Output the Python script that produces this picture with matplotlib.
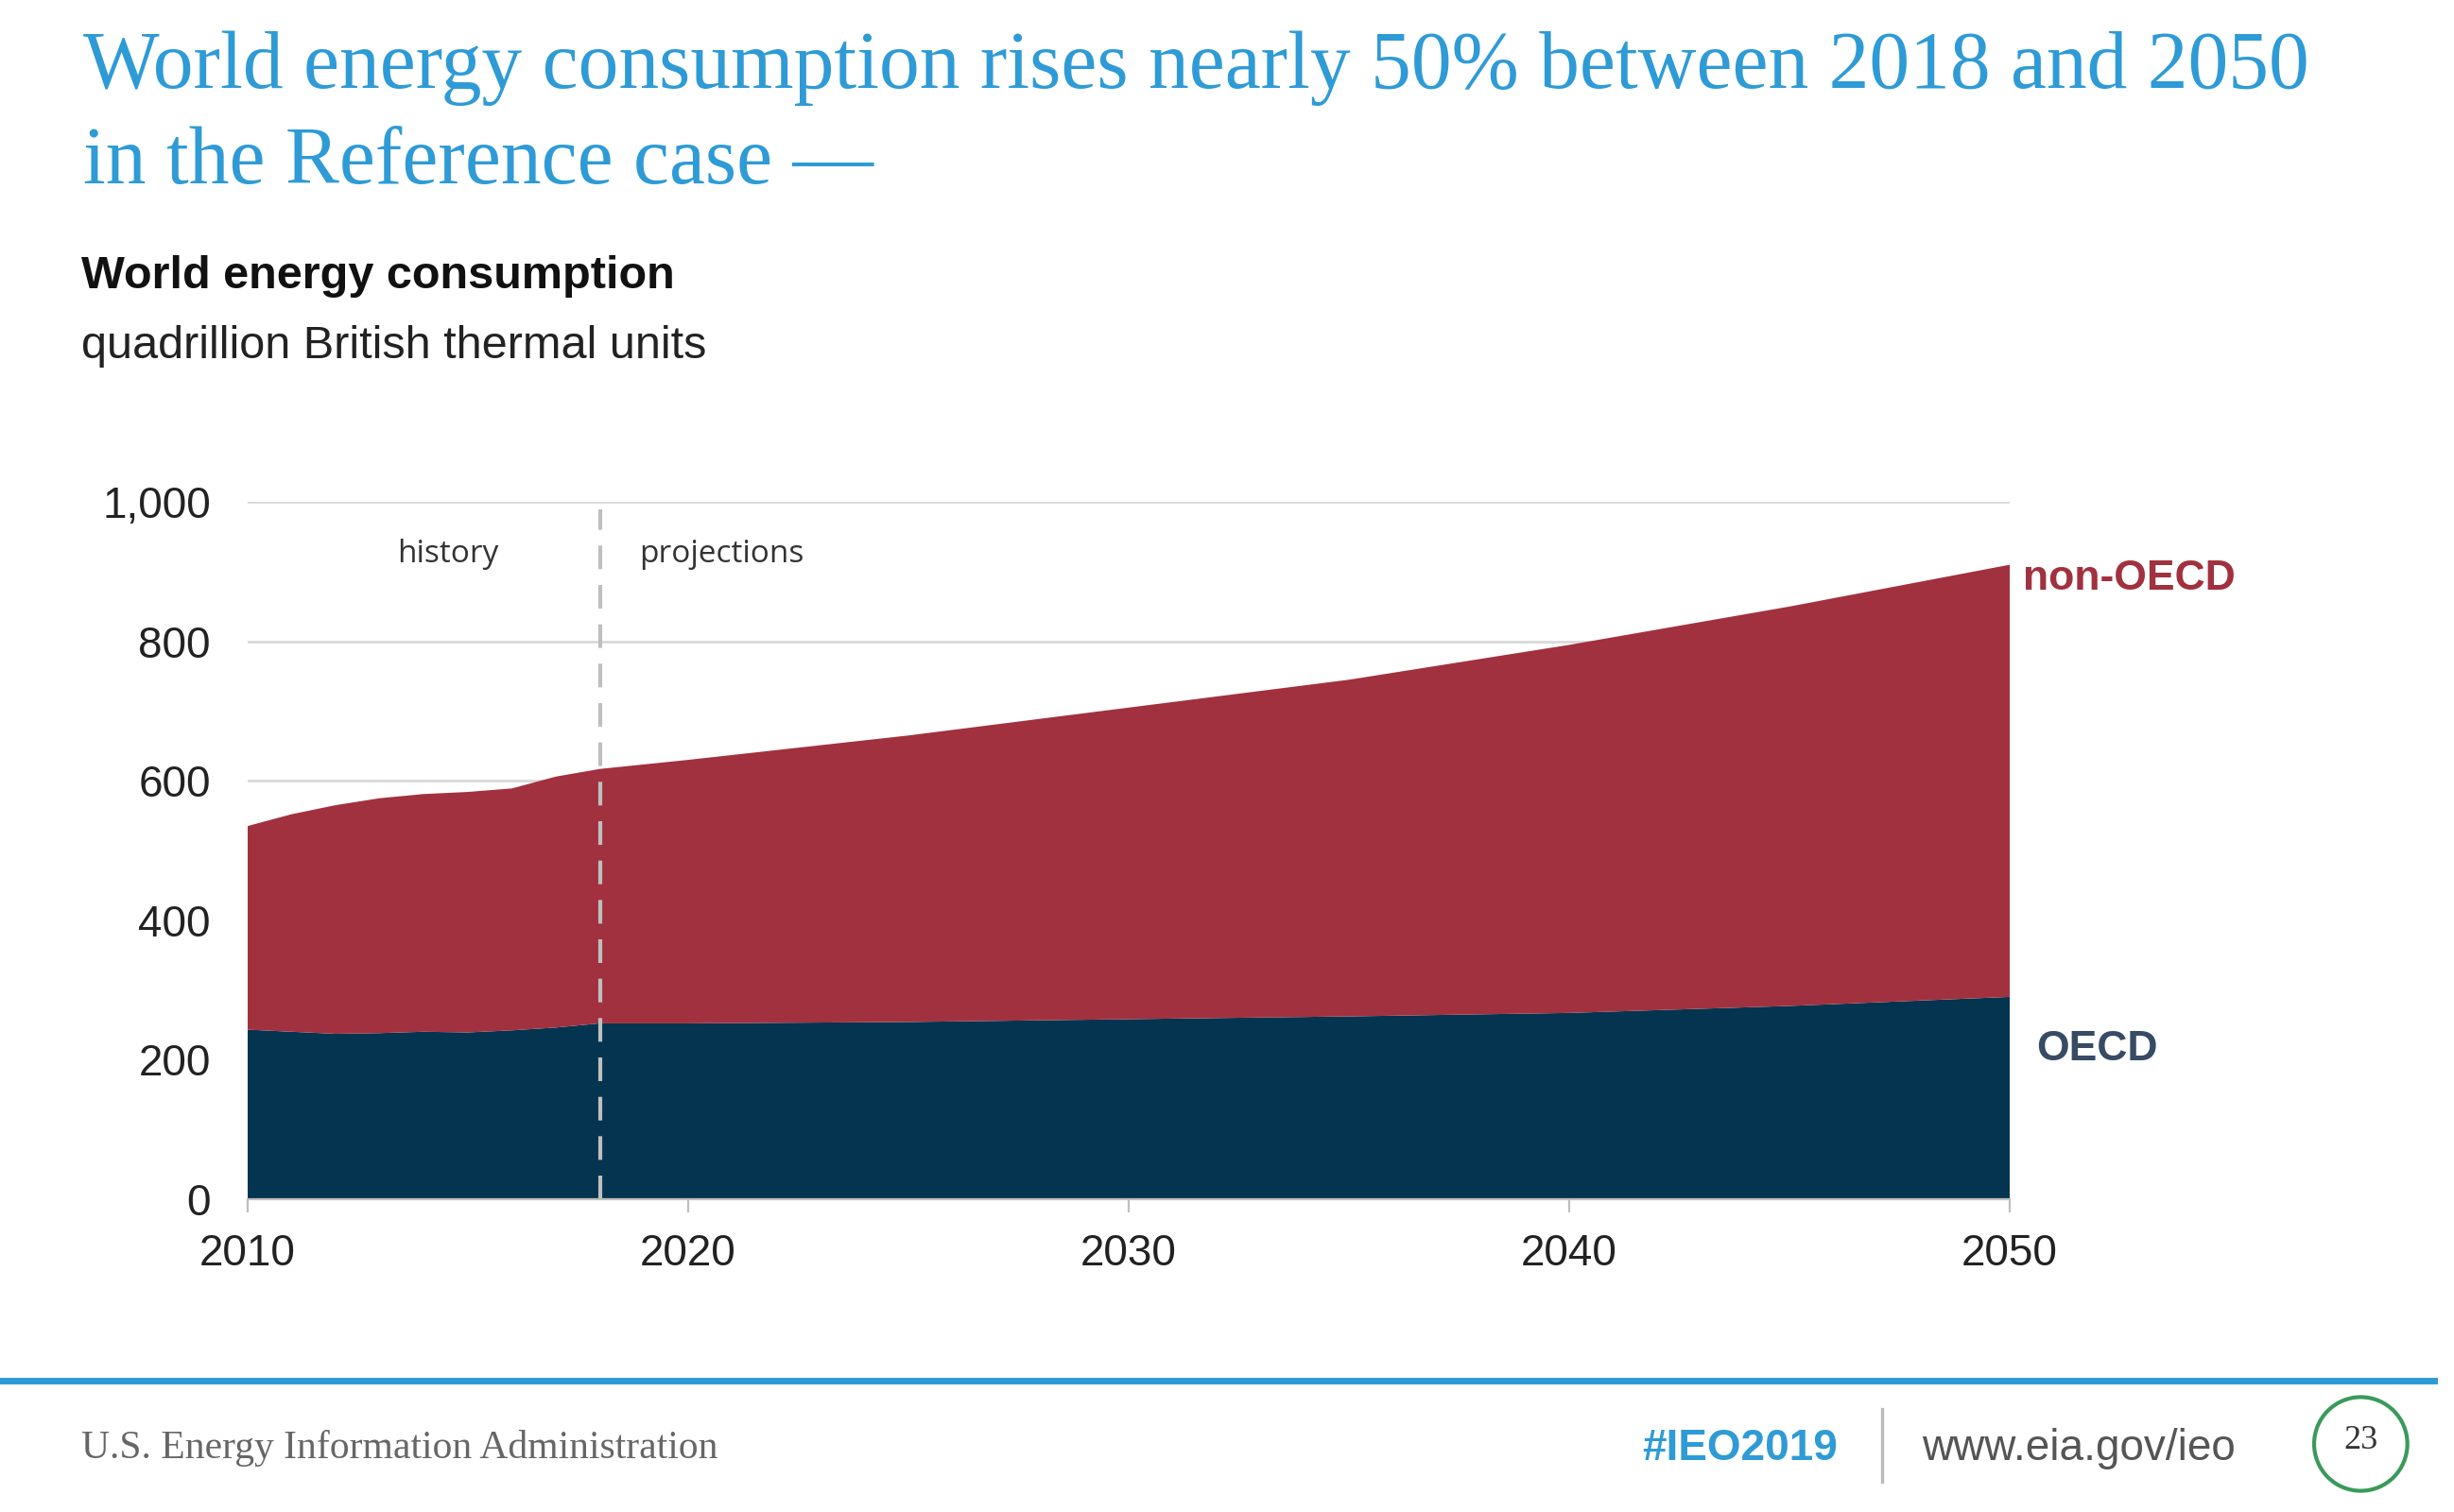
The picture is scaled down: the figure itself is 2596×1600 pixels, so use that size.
import matplotlib
matplotlib.use("Agg")
import matplotlib.pyplot as plt
import numpy as np
from matplotlib.patches import Ellipse

years = [2010,2011,2012,2013,2014,2015,2016,2017,2018,2020,2025,2030,2035,2040,2045,2050]
oecd = [243,240,237,238,240,239,242,246,252,252,254,258,262,267,277,290]
total = [535,552,565,575,581,584,589,606,617,630,665,705,745,795,850,910]
non_oecd = [t-o for t, o in zip(total, oecd)]
yticks = [0,200,400,600,800,1000]
xticks = [2010,2020,2030,2040,2050]

W, H = 2596, 1600
fig = plt.figure(figsize=(W/200, H/200), dpi=200)
ax = fig.add_axes([0.1008, 0.207, 0.7182, 0.461])
ax.stackplot(years, oecd, non_oecd, colors=['#053450', '#A1313F'], linewidth=0)
ax.set_xlim(2010, 2050)
ax.set_ylim(0, 1000)
ax.set_yticks(yticks)
ax.set_yticklabels([f"{v:,}" for v in yticks], fontsize=16.5, family='Liberation Sans', color='#222222')
ax.set_xticks(xticks)
ax.set_xticklabels([str(v) for v in xticks], fontsize=16.5, family='Liberation Sans', color='#222222')
for y in yticks[1:]:
    ax.axhline(y, color='#D9D9D9', lw=1, zorder=0)
ax.set_axisbelow(True)
for s in ['top', 'right', 'left']:
    ax.spines[s].set_visible(False)
ax.spines['bottom'].set_color('#BFBFBF')
ax.tick_params(axis='y', length=0, pad=14)
ax.tick_params(axis='x', length=5, color='#BFBFBF', pad=8)
ax.axvline(2018, color='#BFBFBF', lw=1.5, ls=(0, (6, 4)), ymax=0.99)
ax.text(2015.7, 925, 'history', ha='right', va='center', fontsize=12, color='#333333', family='Open Sans')
ax.text(2018.9, 925, 'projections', ha='left', va='center', fontsize=12, color='#333333', family='Open Sans')
ax.text(2050.3, 890, 'non-OECD', ha='left', va='center', fontsize=16, color='#A1313F', weight='bold', family='Liberation Sans', clip_on=False)
ax.text(2050.6, 215, 'OECD', ha='left', va='center', fontsize=16, color='#384B64', weight='bold', family='Liberation Sans', clip_on=False)

fig.text(0.034, 0.955, 'World energy consumption rises nearly 50% between 2018 and 2050', fontsize=30.8, color='#2E9BD6', family='Liberation Serif', va='center')
fig.text(0.034, 0.892, 'in the Reference case \u2014', fontsize=30.8, color='#2E9BD6', family='Liberation Serif', va='center')
fig.text(0.033, 0.817, 'World energy consumption', fontsize=17.5, weight='bold', family='Liberation Sans', va='center', color='#111111')
fig.text(0.033, 0.771, 'quadrillion British thermal units', fontsize=17.5, family='Liberation Sans', va='center', color='#222222')

fig.add_artist(plt.Line2D([0, 0.992], [0.087, 0.087], transform=fig.transFigure, color='#2E9BD6', lw=2.5))
fig.text(0.033, 0.042, 'U.S. Energy Information Administration', fontsize=15, family='Liberation Serif', color='#666666', va='center')
fig.text(0.749, 0.042, '#IEO2019', fontsize=16.5, family='Liberation Sans', color='#2E9BD6', va='center', ha='right', weight='bold')
fig.add_artist(plt.Line2D([0.767, 0.767], [0.02, 0.068], transform=fig.transFigure, color='#BBBBBB', lw=1.2))
fig.text(0.783, 0.042, 'www.eia.gov/ieo', fontsize=16.5, family='Liberation Sans', color='#555555', va='center')
fig.add_artist(Ellipse((0.962, 0.045), 0.038, 0.062, transform=fig.transFigure, fill=False, ec='#3A9A5A', lw=1.5))
fig.text(0.962, 0.047, '23', fontsize=13, family='Liberation Serif', ha='center', va='center', color='#333333')

fig.savefig('out.png', dpi=200, facecolor='white')
